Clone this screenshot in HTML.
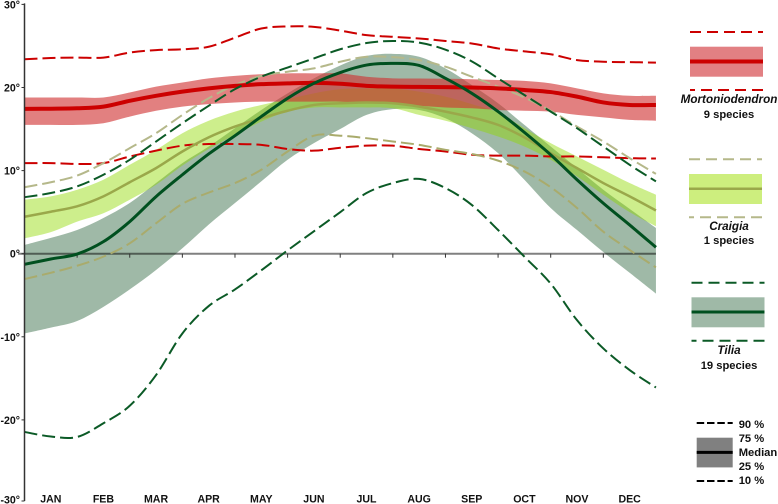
<!DOCTYPE html>
<html lang="en">
<head>
<meta charset="utf-8">
<title>Monthly temperature distribution by genus</title>
<style>
  html, body { margin: 0; padding: 0; background: #fff; }
  svg { display: block; font-family: "Liberation Sans", sans-serif; font-weight: bold; font-size: 11.2px; fill: #111; }
</style>
</head>
<body>
<svg id="chart" width="778" height="504" viewBox="0 0 778 504" xmlns="http://www.w3.org/2000/svg">
  <g id="plot"></g>

  <g>
    <line x1="690" x2="763" y1="32" y2="32" stroke="#cc0000" stroke-width="2" stroke-dasharray="11 6"/>
    <rect x="690" y="46.7" width="73" height="30" fill="#e28083"/>
    <line x1="690" x2="763" y1="61.5" y2="61.5" stroke="#cc0000" stroke-width="4"/>
    <line x1="763" x2="690" y1="90" y2="90" stroke="#cc0000" stroke-width="2" stroke-dasharray="11 6"/>
    <text x="729" y="103" text-anchor="middle" font-style="italic" font-size="11.7">Mortoniodendron</text>
    <text x="729" y="118" text-anchor="middle">9 species</text>
  </g>

  <g>
    <line x1="689" x2="762" y1="159.3" y2="159.3" stroke="#b5b88a" stroke-width="2" stroke-dasharray="11 6"/>
    <rect x="689" y="174" width="73" height="30" fill="#cdee7e"/>
    <line x1="689" x2="762" y1="188.8" y2="188.8" stroke="#9aa84a" stroke-width="2.5"/>
    <line x1="762" x2="689" y1="217.3" y2="217.3" stroke="#b5b88a" stroke-width="2" stroke-dasharray="11 6"/>
    <text x="729" y="230" text-anchor="middle" font-style="italic" font-size="11.7">Craigia</text>
    <text x="729" y="244" text-anchor="middle">1 species</text>
  </g>

  <g>
    <line x1="691.5" x2="764.5" y1="282.7" y2="282.7" stroke="#0b5a26" stroke-width="2" stroke-dasharray="11 6"/>
    <rect x="691.5" y="297.3" width="73" height="30" fill="#9fb9a7"/>
    <line x1="691.5" x2="764.5" y1="312" y2="312" stroke="#00501f" stroke-width="3"/>
    <line x1="764.5" x2="691.5" y1="340.7" y2="340.7" stroke="#0b5a26" stroke-width="2" stroke-dasharray="11 6"/>
    <text x="729" y="354" text-anchor="middle" font-style="italic" font-size="11.7">Tilia</text>
    <text x="729" y="369" text-anchor="middle">19 species</text>
  </g>

  <g>
    <line x1="696.7" x2="732.7" y1="423" y2="423" stroke="#000" stroke-width="2" stroke-dasharray="7.5 2.8"/>
    <rect x="696.7" y="437.7" width="36" height="29.7" fill="#808080"/>
    <line x1="696.7" x2="732.7" y1="452.4" y2="452.4" stroke="#000" stroke-width="3"/>
    <line x1="696.7" x2="732.7" y1="481" y2="481" stroke="#000" stroke-width="2" stroke-dasharray="7.5 2.8"/>
    <text x="738.7" y="428">90 %</text>
    <text x="738.7" y="442">75 %</text>
    <text x="738.7" y="456">Median</text>
    <text x="738.7" y="470">25 %</text>
    <text x="738.7" y="484">10 %</text>
  </g>
</svg>

<script>
// Category and tick labels
const months = ['JAN','FEB','MAR','APR','MAY','JUN','JUL','AUG','SEP','OCT','NOV','DEC'];
const yTicks = [30, 20, 10, 0, -10, -20, -30];

// Sampled every half month, from the start of JAN to the end of DEC (25 values, degrees C)
const mortP90 = [23.4,23.55,23.6,23.6,24.2,24.5,24.6,24.9,26,27.1,27.35,27.3,26.85,26.3,26.1,25.9,25.6,25.3,24.7,24.35,24,23.3,23.1,23.05,23];
const mortP75 = [18.8,18.8,18.8,18.8,19.4,20.1,20.6,21.1,21.4,21.6,21.7,21.7,21.7,21.3,21.1,21.08,21.05,21,20.9,20.8,20.5,19.9,19.3,19,19];
const mortMedian = [17.43,17.45,17.5,17.7,18.4,19,19.5,19.9,20.2,20.4,20.5,20.55,20.45,20.2,20.1,20.07,20.05,20,19.9,19.7,19.45,18.9,18.2,17.9,17.9];
const mortP25 = [15.5,15.5,15.5,15.7,16.5,17.2,17.7,18,18.2,18.3,18.3,18.3,18.3,18.1,18.03,17.8,17.6,17.5,17.3,17.2,17.1,16.7,16.4,16.1,16];
const mortP10 = [10.9,10.9,10.8,10.9,11.7,12.4,13,13.2,13.2,13.1,12.6,12.4,12.75,13,13,12.6,12.3,11.9,11.8,11.8,11.7,11.7,11.6,11.5,11.45];

const craigiaP90 = [8,8.6,9.4,10.9,12.7,14.5,16.7,18.7,20.3,21.4,21.9,22.3,23.1,23.7,23.65,23.3,22.5,21.3,20.1,18.8,17.2,15.3,13.5,11.5,9.6];
const craigiaP75 = [6.5,6.9,7.7,8.9,10.7,12.5,14.5,16,17.1,17.9,18.6,19.3,19.8,19.9,19.9,19.5,18.9,18,17,15.1,13.3,11.7,10.1,8.5,7.1];
const craigiaMedian = [4.45,5.05,5.7,6.9,8.6,10.3,12.3,14,15.3,16.3,17.2,17.9,18.1,18.2,18.1,17.7,17.1,16.4,15.5,14,12.1,10.3,8.5,6.9,5.2];
const craigiaP25 = [1.85,2.6,3.86,4.86,6.5,8.3,10.6,12.6,14.3,15.9,17.1,17.6,17.6,17.6,17.5,16.7,16,15.1,14.1,12.9,11.3,9.3,7.1,5,3.3];
const craigiaP10 = [-3.05,-2.3,-1.45,-0.35,1.25,3.66,6,7.35,8.5,10.1,12.3,14.2,14.2,13.9,13.5,13.1,12.5,12,11.2,9.9,8,5.5,2.65,0.45,-1.65];

const tiliaP90 = [6.8,7.3,8.1,9.5,11.3,13.5,15.7,17.8,19.8,21.3,22.4,23.5,24.6,25.35,25.6,25.4,24.55,23.15,21.1,19.1,17.1,15.1,12.9,10.7,8.7];
const tiliaP75 = [1.05,1.9,2.85,4.3,6.1,8.5,10.9,12.9,15.1,17.3,19.3,21.1,22.65,23.8,24.05,23.7,22.3,20.3,18.1,15.5,12.9,10.3,7.7,5.4,3.1];
const tiliaMedian = [-1.28,-0.64,-0.04,1.45,3.86,6.87,9.5,12,14.2,16.5,18.7,20.5,21.8,22.7,22.9,22.65,21.1,19.3,17.1,14.6,11.9,8.9,6.07,3.46,0.77];
const tiliaP25 = [-9.6,-8.9,-8.1,-6.4,-4.3,-1.96,0.65,3.5,6.1,8.7,11.3,13.3,15,16.7,17.4,17.3,16.3,14.5,12.1,8.9,5.5,2.85,0.2,-2.3,-4.8];
const tiliaP10 = [-21.45,-22,-22.05,-20.4,-18.3,-14.6,-9.6,-6.3,-4.3,-2,0.4,2.7,5,7.3,8.5,9,7.9,5.87,2.85,-0.36,-3.6,-8,-11.4,-14,-16.1];

// Axis functions: month position (0..12) and temperature to pixels
const xScale = function (m) { return 24.5 + m * 52.62; };
const yScale = function (v) { return 253.7 - v * 8.31; };
const bottomLimit = 501;

const NS = 'http://www.w3.org/2000/svg';
const plot = document.getElementById('plot');

function make(tag, props) {
  const el = document.createElementNS(NS, tag);
  for (const k in props) el.setAttribute(k, props[k]);
  plot.appendChild(el);
  return el;
}

function toPoints(values) {
  return values.map(function (v, i) { return [xScale(i / 2), yScale(v)]; });
}

// Smooth segments through the sampled points
function curve(pts) {
  let d = '';
  for (let i = 0; i < pts.length - 1; i++) {
    const p0 = pts[Math.max(i - 1, 0)], p1 = pts[i], p2 = pts[i + 1], p3 = pts[Math.min(i + 2, pts.length - 1)];
    const c1x = p1[0] + (p2[0] - p0[0]) / 6, c1y = p1[1] + (p2[1] - p0[1]) / 6;
    const c2x = p2[0] - (p3[0] - p1[0]) / 6, c2y = p2[1] - (p3[1] - p1[1]) / 6;
    d += ' C' + c1x.toFixed(2) + ' ' + c1y.toFixed(2) + ' ' + c2x.toFixed(2) + ' ' + c2y.toFixed(2) + ' ' + p2[0].toFixed(2) + ' ' + p2[1].toFixed(2);
  }
  return d;
}

function linePath(values) {
  const pts = toPoints(values);
  return 'M' + pts[0][0].toFixed(2) + ' ' + pts[0][1].toFixed(2) + curve(pts);
}

function bandPath(upper, lower) {
  const up = toPoints(upper);
  const low = toPoints(lower).reverse();
  return 'M' + up[0][0].toFixed(2) + ' ' + up[0][1].toFixed(2) + curve(up) +
    ' L' + low[0][0].toFixed(2) + ' ' + low[0][1].toFixed(2) + curve(low) + ' Z';
}

// Bands
const tiliaBand = make('path', { d: bandPath(tiliaP75, tiliaP25), fill: '#9fb9a7' });



const craigiaBand = make('path', { d: bandPath(craigiaP75, craigiaP25), fill: 'rgb(144,218,0)', 'fill-opacity': 0.45 });



const mortBand = make('path', { d: bandPath(mortP75, mortP25), fill: 'rgb(208,50,50)', 'fill-opacity': 0.62 });



// Zero line
const zeroLine = make('line', { x1: 18, x2: xScale(12), y1: yScale(0), y2: yScale(0), stroke: '#808080', 'stroke-width': 2, style: 'mix-blend-mode:multiply' });



// X ticks
for (let m = 1; m < months.length; m++) {
  const xt = make('line', { x1: xScale(m), x2: xScale(m), y1: yScale(0), y2: yScale(0) + 4, stroke: '#333', 'stroke-width': 1 });
  
  
}

// Lines
const dash = '13 5';

const mortP90Line = make('path', { d: linePath(mortP90), fill: 'none', stroke: '#cc0000', 'stroke-width': 2, 'stroke-dasharray': dash });



const mortP10Line = make('path', { d: linePath(mortP10), fill: 'none', stroke: '#cc0000', 'stroke-width': 2, 'stroke-dasharray': dash });



const craigiaP90Line = make('path', { d: linePath(craigiaP90), fill: 'none', stroke: '#b5b88a', 'stroke-width': 2, 'stroke-dasharray': dash });



const craigiaP10Line = make('path', { d: linePath(craigiaP10), fill: 'none', stroke: '#a9ab6c', 'stroke-width': 2, 'stroke-dasharray': dash });



const craigiaMedianLine = make('path', { d: linePath(craigiaMedian), fill: 'none', stroke: '#9aa84a', 'stroke-width': 2.5 });



const mortMedianLine = make('path', { d: linePath(mortMedian), fill: 'none', stroke: '#cc0000', 'stroke-width': 4 });



const tiliaP90Line = make('path', { d: linePath(tiliaP90), fill: 'none', stroke: '#0b5a26', 'stroke-width': 2, 'stroke-dasharray': dash });



const tiliaP10Line = make('path', { d: linePath(tiliaP10), fill: 'none', stroke: '#0b5a26', 'stroke-width': 2, 'stroke-dasharray': dash });



const tiliaMedianLine = make('path', { d: linePath(tiliaMedian), fill: 'none', stroke: '#00501f', 'stroke-width': 3 });



// Y axis
const yAxis = make('line', { x1: xScale(0), x2: xScale(0), y1: yScale(30) - 1, y2: bottomLimit, stroke: '#333', 'stroke-width': 1.5 });



yTicks.forEach(function (t) {
  const yy = Math.min(yScale(t), bottomLimit);
  const tick = make('line', { x1: xScale(0) - 3, x2: xScale(0), y1: yy, y2: yy, stroke: '#333', 'stroke-width': 1 });
  
  
  const label = make('text', { x: 20, y: Math.min(yy + 4, 503.5), 'text-anchor': 'end', 'font-size': 10.6 });
  
  
  label.textContent = t + '°';
});

// Month labels
months.forEach(function (name, i) {
  const label = make('text', { x: xScale(i + 0.5), y: 502.5, 'text-anchor': 'middle', 'font-size': 10.6 });
  
  
  label.textContent = name;
});
</script>
</body>
</html>
